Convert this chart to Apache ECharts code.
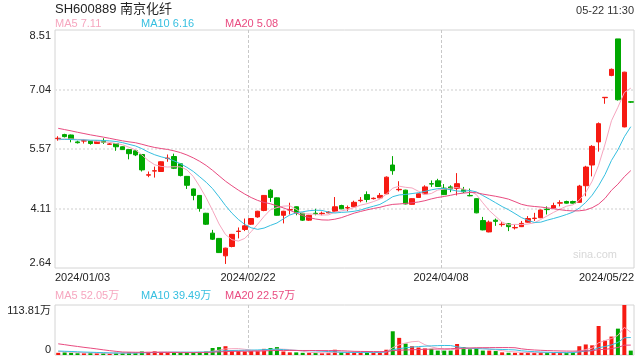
<!DOCTYPE html>
<html><head><meta charset="utf-8">
<script src="https://cdn.jsdelivr.net/npm/echarts@6/dist/echarts.min.js"></script>
<style>html,body{margin:0;padding:0;background:#fff}#c{width:640px;height:360px}</style>
</head><body><div id="c"></div>
<script>
const dates = [
'2024/01/03','2024/01/04','2024/01/05','2024/01/08','2024/01/09','2024/01/10','2024/01/11','2024/01/12','2024/01/15','2024/01/16',
'2024/01/17','2024/01/18','2024/01/19','2024/01/22','2024/01/23','2024/01/24','2024/01/25','2024/01/26','2024/01/29','2024/01/30',
'2024/01/31','2024/02/01','2024/02/02','2024/02/05','2024/02/06','2024/02/07','2024/02/08','2024/02/19','2024/02/20','2024/02/21',
'2024/02/22','2024/02/23','2024/02/26','2024/02/27','2024/02/28','2024/02/29','2024/03/01','2024/03/04','2024/03/05','2024/03/06',
'2024/03/07','2024/03/08','2024/03/11','2024/03/12','2024/03/13','2024/03/14','2024/03/15','2024/03/18','2024/03/19','2024/03/20',
'2024/03/21','2024/03/22','2024/03/25','2024/03/26','2024/03/27','2024/03/28','2024/03/29','2024/04/01','2024/04/02','2024/04/03',
'2024/04/08','2024/04/09','2024/04/10','2024/04/11','2024/04/12','2024/04/15','2024/04/16','2024/04/17','2024/04/18','2024/04/19',
'2024/04/22','2024/04/23','2024/04/24','2024/04/25','2024/04/26','2024/04/29','2024/04/30','2024/05/06','2024/05/07','2024/05/08',
'2024/05/09','2024/05/10','2024/05/13','2024/05/14','2024/05/15','2024/05/16','2024/05/17','2024/05/20','2024/05/21','2024/05/22'];

const opens = [
5.83,5.93,5.92,5.75,5.77,5.78,5.71,5.78,5.69,5.71,
5.63,5.56,5.53,5.44,4.93,5.03,5.02,5.34,5.39,5.21,
4.90,4.59,4.43,3.99,3.50,3.37,2.94,3.17,3.54,3.59,
3.72,3.90,4.06,4.56,4.37,3.94,4.07,4.15,3.99,3.82,
3.99,3.98,4.00,4.04,4.18,4.12,4.15,4.30,4.45,4.35,
4.37,4.47,5.18,4.57,4.56,4.21,4.38,4.47,4.72,4.79,
4.61,4.64,4.60,4.57,4.43,4.35,3.81,3.53,3.82,3.71,
3.73,3.63,3.66,3.77,3.86,3.88,4.09,4.12,4.24,4.28,
4.28,4.26,4.67,5.18,5.75,6.84,7.39,8.29,6.12,6.74];
const closes = [
5.84,5.88,5.82,5.73,5.78,5.71,5.77,5.74,5.70,5.63,
5.56,5.46,5.43,5.06,4.94,5.04,5.26,5.35,5.10,4.92,
4.68,4.43,4.11,3.72,3.35,3.02,3.13,3.47,3.55,3.68,
3.86,4.04,4.43,4.38,3.94,4.04,4.08,4.00,3.82,3.94,
3.98,3.99,4.02,4.15,4.10,4.13,4.26,4.31,4.33,4.36,
4.43,4.88,5.04,4.58,4.22,4.35,4.47,4.64,4.71,4.65,
4.45,4.59,4.72,4.52,4.42,4.00,3.58,3.77,3.79,3.72,
3.66,3.64,3.74,3.86,3.87,4.07,4.08,4.18,4.25,4.24,
4.24,4.66,5.13,5.64,6.20,6.85,7.54,6.79,7.47,6.73];
const lows = [
5.78,5.86,5.74,5.71,5.71,5.68,5.70,5.70,5.68,5.53,
5.55,5.32,5.40,5.02,4.88,4.87,5.01,5.26,5.08,4.90,
4.59,4.31,4.03,3.70,3.33,3.01,2.74,3.15,3.37,3.55,
3.70,3.88,4.04,4.27,3.93,3.74,3.96,3.94,3.80,3.80,
3.94,3.94,3.99,4.03,4.09,4.04,4.14,4.26,4.26,4.33,
4.36,4.46,4.94,4.53,4.21,4.20,4.37,4.46,4.64,4.64,
4.44,4.51,4.43,4.49,4.41,3.99,3.57,3.52,3.68,3.66,
3.55,3.59,3.65,3.76,3.80,3.87,3.96,4.11,4.16,4.23,
4.23,4.25,4.41,4.90,5.51,6.69,7.37,6.77,6.11,6.71];
const highs = [
5.89,5.95,5.93,5.78,5.82,5.79,5.78,5.84,5.72,5.72,
5.64,5.57,5.55,5.45,5.02,5.14,5.27,5.44,5.46,5.22,
4.91,4.60,4.44,4.00,3.58,3.38,3.14,3.48,3.64,3.86,
3.87,4.05,4.44,4.59,4.38,4.05,4.25,4.16,4.00,3.95,
4.10,4.03,4.04,4.39,4.20,4.18,4.30,4.39,4.53,4.38,
4.49,4.90,5.40,4.78,4.57,4.36,4.48,4.68,4.80,4.84,
4.71,4.68,4.98,4.64,4.60,4.36,3.90,3.81,3.86,3.77,
3.75,3.71,3.80,3.92,4.00,4.08,4.16,4.25,4.31,4.30,
4.30,4.69,5.16,5.67,6.23,6.85,7.56,8.29,7.48,6.75];
// volume, unit 万
const volumes = [
5,6,5,4,4,5,4,4,3,5,
5,6,5,8,7,9,7,6,6,5,
6,6,7,8,16,18,20,10,9,8,
9,10,14,16,18,8,6,6,5,5,
5,4,5,12,6,5,6,5,7,5,
6,12,54,39,26,20,17,15,14,10,
10,10,25,18,13,15,10,10,9,6,
5,5,5,6,5,6,5,5,6,5,
7,20,24,22,66,33,42,60,113.81,10];
// closes / volumes of the 19 sessions before 2024/01/03 (only for the MA warm-up)
const prevCloses = [6.50,6.45,6.43,6.40,6.35,6.33,6.30,6.30,6.27,6.17,5.95,5.86,5.82,5.80,5.77,5.78,5.80,5.79,5.79];
const prevVolumes = [45,48,42,44,40,42,44,40,38,35,12,10,11,10,9,9,8,8,9];

const priceTicks = ['2.64','4.11','5.57','7.04','8.51'];
const volTop = 113.81;
const title = 'SH600889 南京化纤';
const timeText = '05-22 11:30';
const maNames = ['MA5','MA10','MA20'];
const maPriceText = ['7.11','6.16','5.08'];
const maVolText = ['52.05万','39.49万','22.57万'];

const RED = '#f61a12', GREEN = '#00a800';
const MA_COL = ['#f6a6bf', '#36bfe0', '#e94b80'];
const FONT = '"Liberation Sans", Arial, "Noto Sans CJK SC", sans-serif';

function ma(arr, prev, n) {
  const all = prev.concat(arr), off = prev.length, out = [];
  for (let i = 0; i < arr.length; i++) {
    let s = 0; for (let k = 0; k < n; k++) s += all[off + i - k];
    out.push(+(s / n).toFixed(4));
  }
  return out;
}

const kData = dates.map((d, i) => [opens[i], closes[i], lows[i], highs[i]]);
const vData = volumes.map((v, i) => ({value: v, itemStyle: {color: closes[i] >= opens[i] ? RED : GREEN}}));
const pMin = +priceTicks[0], pMax = +priceTicks[priceTicks.length - 1];
const N = dates.length;

const chart = echarts.init(document.getElementById('c'), null, {renderer: 'canvas'});
const dashX = {show: true, showMinLine: false, showMaxLine: false, lineStyle: {type: [3, 2], color: '#c8c8c8', width: 1}};
const titles = [
  {text: title, left: 55, top: 3, padding: 0, textStyle: {fontSize: 13, fontWeight: 'normal', color: '#222', fontFamily: FONT}},
  {text: timeText, right: 6, top: 5, padding: 0, textStyle: {fontSize: 11, fontWeight: 'normal', color: '#333', fontFamily: FONT}}
];
const legX = [55, 141, 225];
maNames.forEach((n, k) => {
  titles.push({text: n + ' ' + maPriceText[k], left: legX[k], top: 18, padding: 0, textStyle: {fontSize: 11, fontWeight: 'normal', color: MA_COL[k], fontFamily: FONT}});
  titles.push({text: n + ' ' + maVolText[k], left: legX[k], top: 290, padding: 0, textStyle: {fontSize: 11, fontWeight: 'normal', color: MA_COL[k], fontFamily: FONT}});
});
titles.push({text: 'sina.com', right: 23, top: 249, padding: 0, textStyle: {fontSize: 11, fontWeight: 'normal', color: '#d8d8d8', fontFamily: FONT}});

const option = {
  animation: false,
  backgroundColor: '#fff',
  textStyle: {fontFamily: FONT},
  title: titles,
  grid: [
    {left: 55, right: 6, top: 30, height: 238, show: true, borderColor: '#d4d4d4', borderWidth: 1, outerBoundsMode: 'none', containLabel: false},
    {left: 55, right: 6, top: 305, height: 50, show: true, borderColor: '#d4d4d4', borderWidth: 1, outerBoundsMode: 'none', containLabel: false}
  ],
  xAxis: [
    {type: 'category', gridIndex: 0, data: dates, show: false},
    {type: 'value', gridIndex: 0, position: 'bottom', min: 0, max: N, interval: 30,
      axisLine: {show: false}, axisTick: {show: false}, splitLine: dashX,
      axisLabel: {margin: 4, fontSize: 11, color: '#222', fontFamily: FONT, alignMinLabel: 'left', alignMaxLabel: 'right',
        formatter: v => dates[Math.min(v, N - 1)]}},
    {type: 'category', gridIndex: 1, data: dates, show: false},
    {type: 'value', gridIndex: 1, position: 'bottom', min: 0, max: N, interval: 30,
      axisLine: {show: false}, axisTick: {show: false}, axisLabel: {show: false}, splitLine: dashX}
  ],
  yAxis: [
    {type: 'value', gridIndex: 0, min: pMin, max: pMax, show: false},
    {type: 'value', gridIndex: 0, position: 'left', min: 0, max: priceTicks.length - 1, interval: 1,
      axisLine: {show: false}, axisTick: {show: false},
      splitLine: {show: true, showMinLine: false, showMaxLine: false, lineStyle: {type: [2, 2], width: 2, color: '#e6e6e6'}},
      axisLabel: {margin: 4, fontSize: 11, color: '#222', fontFamily: FONT,
        verticalAlignMinLabel: 'bottom', verticalAlignMaxLabel: 'top', formatter: v => priceTicks[v]}},
    {type: 'value', gridIndex: 1, position: 'left', min: 0, max: volTop, interval: volTop,
      axisLine: {show: false}, axisTick: {show: false}, splitLine: {show: false},
      axisLabel: {margin: 4, fontSize: 11, color: '#222', fontFamily: FONT,
        verticalAlignMinLabel: 'bottom', verticalAlignMaxLabel: 'top',
        formatter: v => v === 0 ? '0' : v.toFixed(2) + '万'}}
  ],
  series: [
    {type: 'candlestick', xAxisIndex: 0, yAxisIndex: 0, data: kData, barWidth: 5,
      itemStyle: {color: RED, color0: GREEN, borderColor: RED, borderColor0: GREEN, borderWidth: 1}},
    {type: 'line', xAxisIndex: 0, yAxisIndex: 0, data: ma(closes, prevCloses, 5), symbol: 'none', lineStyle: {width: 1, color: MA_COL[0]}, z: 3},
    {type: 'line', xAxisIndex: 0, yAxisIndex: 0, data: ma(closes, prevCloses, 10), symbol: 'none', lineStyle: {width: 1, color: MA_COL[1]}, z: 3},
    {type: 'line', xAxisIndex: 0, yAxisIndex: 0, data: ma(closes, prevCloses, 20), symbol: 'none', lineStyle: {width: 1, color: MA_COL[2]}, z: 3},
    {type: 'bar', xAxisIndex: 2, yAxisIndex: 2, data: vData, barWidth: 4},
    {type: 'line', xAxisIndex: 2, yAxisIndex: 2, data: ma(volumes, prevVolumes, 5), symbol: 'none', lineStyle: {width: 1, color: MA_COL[0]}, z: 3},
    {type: 'line', xAxisIndex: 2, yAxisIndex: 2, data: ma(volumes, prevVolumes, 10), symbol: 'none', lineStyle: {width: 1, color: MA_COL[1]}, z: 3},
    {type: 'line', xAxisIndex: 2, yAxisIndex: 2, data: ma(volumes, prevVolumes, 20), symbol: 'none', lineStyle: {width: 1, color: MA_COL[2]}, z: 3}
  ]
};
chart.setOption(option);
</script>
</body></html>
